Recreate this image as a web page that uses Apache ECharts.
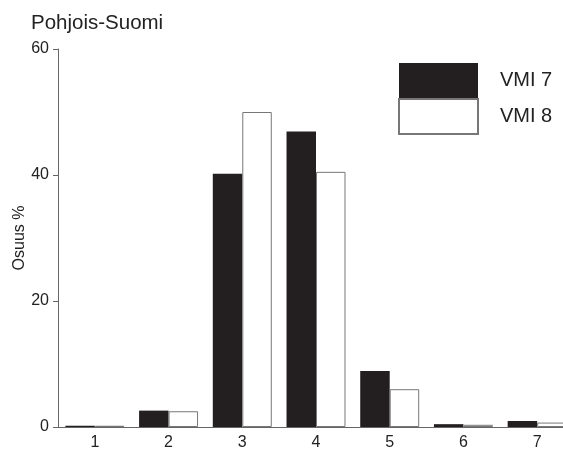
<!DOCTYPE html>
<html>
<head>
<meta charset="utf-8">
<script src="https://cdn.jsdelivr.net/npm/echarts@6/dist/echarts.min.js"></script>
<style>
html,body{margin:0;padding:0;background:#fff;}
#c{width:563px;height:449px;}
</style>
</head>
<body>
<div id="c"></div>
<script>
const categories = ['1','2','3','4','5','6','7'];
const vmi7 = [0.2, 2.6, 40.2, 46.9, 8.9, 0.45, 0.95];
const vmi8 = [0.2, 2.5, 50.0, 40.5, 6.0, 0.35, 0.7];
const yTicks = [0, 20, 40, 60];

const chart = echarts.init(document.getElementById('c'));
const font = 'Liberation Sans, Arial, Helvetica, sans-serif';
chart.setOption({
  animation: false,
  backgroundColor: '#fff',
  title: {
    text: 'Pohjois-Suomi',
    left: 31, top: 12, padding: 0,
    textStyle: {fontFamily: font, fontSize: 20.5, fontWeight: 'normal', color: '#222', lineHeight: 22}
  },
  legend: {
    orient: 'vertical',
    left: 398, top: 63,
    padding: 0,
    itemGap: 0,
    itemWidth: 79, itemHeight: 35,
    icon: 'rect',
    data: ['VMI 7', 'VMI 8'],
    textStyle: {fontFamily: font, fontSize: 20, color: '#222', padding: [0, 0, 0, 17]}
  },
  grid: {left: 58, width: 516, top: 49, height: 378, containLabel: false, outerBoundsMode: 'none'},
  xAxis: {
    type: 'category',
    data: categories,
    axisLine: {lineStyle: {color: '#666', width: 1}},
    axisTick: {show: false},
    axisLabel: {fontFamily: font, fontSize: 16, color: '#222', margin: 8},
    splitLine: {show: false}
  },
  yAxis: {
    type: 'value',
    min: yTicks[0], max: yTicks[yTicks.length - 1], interval: 20,
    name: 'Osuus %',
    nameLocation: 'middle',
    nameGap: 30,
    nameMoveOverlap: false,
    nameTextStyle: {fontFamily: font, fontSize: 16, color: '#222'},
    axisLine: {show: true, lineStyle: {color: '#666', width: 1}},
    axisTick: {show: true, length: 5, lineStyle: {color: '#666'}},
    axisLabel: {fontFamily: font, fontSize: 16, color: '#222', margin: 9},
    splitLine: {show: false}
  },
  series: [
    {
      name: 'VMI 7', type: 'bar', data: vmi7,
      barGap: '0%', barCategoryGap: '20%',
      itemStyle: {color: '#231f20', borderColor: '#231f20', borderWidth: 0}
    },
    {
      name: 'VMI 8', type: 'bar', data: vmi8,
      barGap: '0%', barCategoryGap: '20%',
      itemStyle: {color: '#ffffff', borderColor: '#777', borderWidth: 1}
    }
  ]
});
</script>
</body>
</html>
